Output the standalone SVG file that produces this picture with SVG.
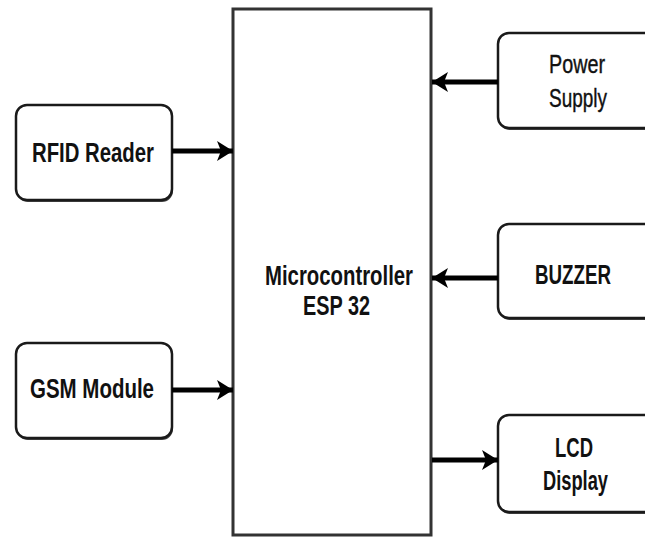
<svg xmlns="http://www.w3.org/2000/svg" width="645" height="537" viewBox="0 0 645 537">
  <style>
    .box { fill: #ffffff; stroke: #1a1a1a; stroke-width: 2.5; }
    .shadow { fill: #444444; }
    .main { fill: #ffffff; stroke: #333333; stroke-width: 3; }
    .lbl { font-family: "Liberation Sans", Arial, sans-serif; font-size: 27px; font-weight: bold; fill: #111111; }
    .lbl2 { font-family: "Liberation Sans", Arial, sans-serif; font-size: 26px; font-weight: normal; fill: #111111; stroke: #111111; stroke-width: 0.4; }
    .conn { stroke: #000000; stroke-width: 5; fill: none; }
  </style>
  <defs>
    <marker id="arr" viewBox="0 -11 18 22" refX="16" refY="0" markerWidth="18" markerHeight="22" markerUnits="userSpaceOnUse" orient="auto">
      <path d="M0,-10 L16,0 L0,10 L4,0 Z" fill="#000000"/>
    </marker>
  </defs>
  <rect width="645" height="537" fill="#ffffff"/>

  <g id="microcontroller">
    <rect class="main" x="233" y="9" width="198" height="526"/>
    <text class="lbl" x="265" y="285" textLength="148" lengthAdjust="spacingAndGlyphs">Microcontroller</text>
    <text class="lbl" x="303" y="315" textLength="67" lengthAdjust="spacingAndGlyphs">ESP 32</text>
  </g>

  <g id="rfid">
    <rect class="shadow" x="17" y="107" width="156" height="95" rx="11"/>
    <rect class="box" x="16" y="105" width="156" height="95" rx="11"/>
    <text class="lbl" x="32" y="162" textLength="122" lengthAdjust="spacingAndGlyphs">RFID Reader</text>
  </g>

  <g id="gsm">
    <rect class="shadow" x="17" y="345" width="156" height="95" rx="11"/>
    <rect class="box" x="16" y="343" width="156" height="95" rx="11"/>
    <text class="lbl" x="30" y="398" textLength="124" lengthAdjust="spacingAndGlyphs">GSM Module</text>
  </g>

  <g id="power">
    <rect class="shadow" x="499" y="35" width="170" height="95" rx="11"/>
    <rect class="box" x="498" y="33" width="170" height="95" rx="11"/>
    <text class="lbl2" x="549" y="73" textLength="56" lengthAdjust="spacingAndGlyphs">Power</text>
    <text class="lbl2" x="549" y="107" textLength="58" lengthAdjust="spacingAndGlyphs">Supply</text>
  </g>

  <g id="buzzer">
    <rect class="shadow" x="499" y="226" width="170" height="94" rx="11"/>
    <rect class="box" x="498" y="224" width="170" height="94" rx="11"/>
    <text class="lbl" x="535" y="284" textLength="76" lengthAdjust="spacingAndGlyphs">BUZZER</text>
  </g>

  <g id="lcd">
    <rect class="shadow" x="499" y="417" width="170" height="97" rx="11"/>
    <rect class="box" x="498" y="415" width="170" height="97" rx="11"/>
    <text class="lbl" x="555" y="457" textLength="38" lengthAdjust="spacingAndGlyphs">LCD</text>
    <text class="lbl" x="543" y="490" textLength="65" lengthAdjust="spacingAndGlyphs">Display</text>
  </g>

  <g id="connectors">
    <line class="conn" x1="172" y1="151" x2="233" y2="151" marker-end="url(#arr)"/>
    <line class="conn" x1="172" y1="390" x2="233" y2="390" marker-end="url(#arr)"/>
    <line class="conn" x1="498" y1="82" x2="432" y2="82" stroke-width="4" marker-end="url(#arr)"/>
    <line class="conn" x1="498" y1="278" x2="432" y2="278" stroke-width="4" marker-end="url(#arr)"/>
    <line class="conn" x1="432" y1="460" x2="498" y2="460" stroke-width="6" marker-end="url(#arr)"/>
  </g>
</svg>
